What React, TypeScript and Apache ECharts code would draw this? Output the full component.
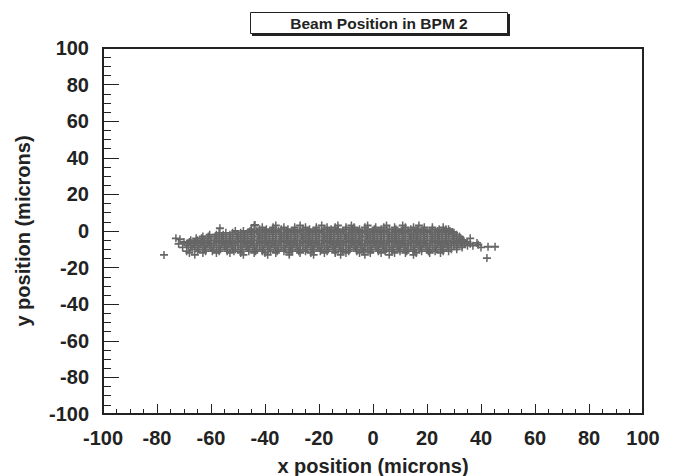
import React, { useEffect, useRef } from "react";
import * as echarts from "echarts";

const titleText = "Beam Position in BPM 2";
const xTitle = "x position (microns)";
const yTitle = "y position (microns)";
const axisMin = -100;
const axisMax = 100;
const axisStep = 20;

// Scatter points (y level -> x positions)
const rowY = [3, 2, 1, 0, -1, -2, -3, -4, -5, -6, -7, -8, -9, -10, -11, -12, -13];
const rowX: number[][] = [
  [-44, -36, -27, -19, -13, -8, -2, 5, 11, 17],
  [-41, -37, -33, -29, -25, -21, -17, -14, -10, -7, -3, 1, 4, 8, 12, 15, 19, 22, 26],
  [-45, -42, -39.5, -37, -34, -31.5, -29, -26, -23.5, -21, -18, -15.5, -13, -10, -7.5, -5, -2, 0.5, 3, 6, 8.5, 11, 14, 16.5, 19, 22, 24.5, 27],
  [-51, -48, -45.5, -43, -40, -37.5, -35, -32, -29.5, -27, -24, -21.5, -19, -16, -13.5, -11, -8, -5.5, -3, 0, 2.5, 5, 8, 10.5, 13, 16, 18.5, 21, 24, 26.5, 28.5],
  [-57, -54.5, -52, -49, -46.5, -44, -41, -38.5, -36, -33, -30.5, -28, -25, -22.5, -20, -17, -14.5, -12, -9, -6.5, -4, -1, 1.5, 4, 7, 9.5, 12, 15, 17.5, 20, 23, 25.5, 28, 30],
  [-60.5, -58, -55.5, -53, -50, -47.5, -45, -42, -39.5, -37, -34, -31.5, -29, -26, -23.5, -21, -18, -15.5, -13, -10, -7.5, -5, -2, 0.5, 3, 6, 8.5, 11, 14, 16.5, 19, 22, 24.5, 27, 29.5, 31],
  [-63, -61, -58.5, -56, -53, -50.5, -48, -45, -42.5, -40, -37, -34.5, -32, -29, -26.5, -24, -21, -18.5, -16, -13, -10.5, -8, -5, -2.5, 0, 3, 5.5, 8, 11, 13.5, 16, 19, 21.5, 24, 27, 29.5, 32],
  [-65.5, -63.5, -61, -58, -55.5, -53, -50, -47.5, -45, -42, -39.5, -37, -34, -31.5, -29, -26, -23.5, -21, -18, -15.5, -13, -10, -7.5, -5, -2, 0.5, 3, 6, 8.5, 11, 14, 16.5, 19, 22, 24.5, 27, 30, 32.5],
  [-67.5, -65, -62.5, -60, -57, -54.5, -52, -49, -46.5, -44, -41, -38.5, -36, -33, -30.5, -28, -25, -22.5, -20, -17, -14.5, -12, -9, -6.5, -4, -1, 1.5, 4, 7, 9.5, 12, 15, 17.5, 20, 23, 25.5, 28, 31, 33.5],
  [-68, -66, -63.5, -61, -58, -55.5, -53, -50, -47.5, -45, -42, -39.5, -37, -34, -31.5, -29, -26, -23.5, -21, -18, -15.5, -13, -10, -7.5, -5, -2, 0.5, 3, 6, 8.5, 11, 14, 16.5, 19, 22, 24.5, 27, 30, 32.5, 35],
  [-69, -66.5, -64, -61.5, -59, -56, -53.5, -51, -48, -45.5, -43, -40, -37.5, -35, -32, -29.5, -27, -24, -21.5, -19, -16, -13.5, -11, -8, -5.5, -3, 0, 2.5, 5, 8, 10.5, 13, 16, 18.5, 21, 24, 26.5, 29, 31.5, 34, 36],
  [-68.5, -66, -63, -60.5, -58, -55, -52.5, -50, -47, -44.5, -42, -39, -36.5, -34, -31, -28.5, -26, -23, -20.5, -18, -15, -12.5, -10, -7, -4.5, -2, 1, 3.5, 6, 9, 11.5, 14, 17, 19.5, 22, 25, 27.5, 30, 33, 35],
  [-67.5, -65, -62.5, -60, -57, -54.5, -52, -49, -46.5, -44, -41, -38.5, -36, -33, -30.5, -28, -25, -22.5, -20, -17, -14.5, -12, -9, -6.5, -4, -1, 1.5, 4, 7, 9.5, 12, 15, 17.5, 20, 23, 25.5, 28, 31, 33],
  [-67, -64.5, -62, -59, -56.5, -54, -51, -48.5, -46, -43, -40.5, -38, -35, -32.5, -30, -27, -24.5, -22, -19, -16.5, -14, -11, -8.5, -6, -3, -0.5, 2, 5, 7.5, 10, 13, 15.5, 18, 21, 23.5, 26, 29, 31],
  [-65, -62, -59.5, -57, -54, -51.5, -49, -46, -43.5, -41, -38, -35.5, -33, -30, -27.5, -25, -22, -19.5, -17, -14, -11.5, -9, -6, -3.5, -1, 2, 4.5, 7, 10, 12.5, 15, 18, 20.5, 23, 26, 28],
  [-63, -58, -53, -49, -44, -40, -36, -31, -27, -23, -18, -14, -10, -5, -1, 3, 8, 12, 16, 21, 25],
  [-48, -39, -31, -22, -12, -3, 6, 15],
];
// Stray points around the edges of the cloud
const strayX = [-77.4, -56.7, -73, -71.5, -72, -70.5, -68, -70, -69, -66, -43.7, 28, 29.5, 36, 37, 38.5, 39, 40, 42.6, 45.2, 42.2, 33];
const strayY = [-13.1, 1.5, -4, -4.5, -7, -9, -12, -6, -11, -13, 3.3, 1, -0.5, -4, -8, -6.5, -7.5, -9, -8.6, -8.6, -14.8, -5];

const INK = "#222222";
const MARK = "#666666";
const FONT = "'Liberation Sans', Arial, Helvetica, sans-serif";
const PLUS = "path://M0,3.1H8V4.9H0Z M3.25,0H4.75V8H3.25Z";

export default function App() {
  const ref = useRef<HTMLDivElement>(null);
  useEffect(() => {
    if (!ref.current) return;
    const chart = echarts.init(ref.current, undefined, { renderer: "svg" });
    const points: number[][] = [];
    rowY.forEach((y, i) => rowX[i].forEach((x) => points.push([x, y])));
    strayX.forEach((x, i) => points.push([x, strayY[i]]));

    const axisCommon = (tickLen: number, minorLen: number) => ({
      type: "value" as const,
      min: axisMin,
      max: axisMax,
      interval: axisStep,
      splitLine: { show: false },
      axisLine: { show: true, onZero: false, lineStyle: { color: INK, width: 2 } },
      axisTick: { show: true, inside: true, length: tickLen, lineStyle: { color: INK, width: 1 } },
      minorTick: { show: true, splitNumber: 4, length: minorLen, lineStyle: { color: INK, width: 1 } },
      minorSplitLine: { show: false },
      nameLocation: "middle" as const,
      nameTextStyle: { fontFamily: FONT, fontWeight: "bold" as const, fontSize: 20, color: INK },
    });

    chart.setOption({
      animation: false,
      backgroundColor: "#ffffff",
      grid: {
        left: 103,
        right: 35,
        top: 48,
        bottom: 62,
        show: true,
        borderColor: INK,
        borderWidth: 2,
        backgroundColor: "transparent",
        containLabel: false,
        outerBoundsMode: "none",
      },
      xAxis: {
        ...axisCommon(10, 5),
        name: xTitle,
        nameGap: 42,
        axisLabel: { fontFamily: FONT, fontWeight: "bold", fontSize: 20, color: INK, margin: 14 },
      },
      yAxis: {
        ...axisCommon(16, 8),
        name: yTitle,
        nameGap: 70,
        nameRotate: 90,
        axisLabel: { fontFamily: FONT, fontWeight: "bold", fontSize: 20, color: INK, margin: 14 },
      },
      graphic: [
        {
          type: "rect",
          shape: { x: 252, y: 14, width: 258, height: 22 },
          style: { fill: INK },
          silent: true,
        },
        {
          type: "rect",
          shape: { x: 250.5, y: 12.5, width: 257, height: 21 },
          style: { fill: "#ffffff", stroke: INK, lineWidth: 1 },
          silent: true,
        },
        {
          type: "text",
          x: 379,
          y: 23,
          style: {
            text: titleText,
            fontFamily: FONT,
            fontWeight: "bold",
            fontSize: 15.5,
            fill: INK,
            align: "center",
            verticalAlign: "middle",
          },
          silent: true,
        },
      ],
      series: [
        {
          type: "scatter",
          data: points,
          symbol: PLUS,
          symbolSize: 8,
          itemStyle: { color: MARK, opacity: 1 },
          emphasis: { disabled: true },
          silent: true,
        },
      ],
    });
    return () => chart.dispose();
  }, []);
  return (
    <div
      ref={ref}
      style={{ position: "absolute", left: 0, top: 0, width: 678, height: 476 }}
    />
  );
}
